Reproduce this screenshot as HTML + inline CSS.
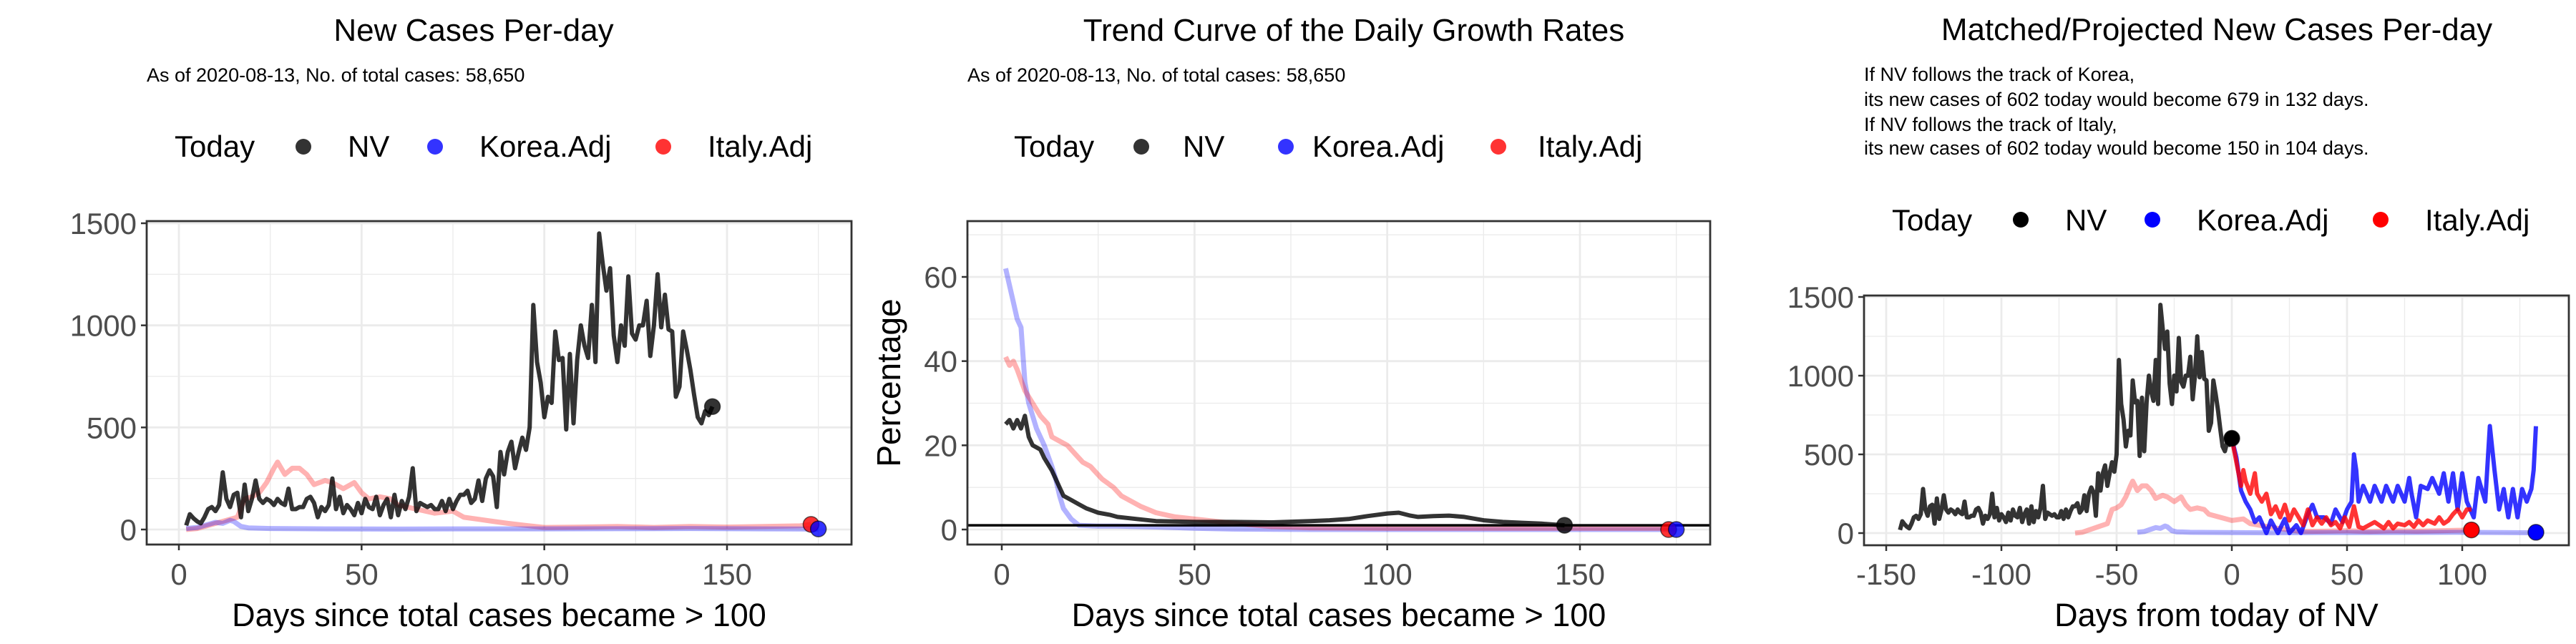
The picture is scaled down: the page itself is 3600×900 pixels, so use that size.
<!DOCTYPE html>
<html><head><meta charset="utf-8">
<style>
html,body{margin:0;padding:0;background:#fff;}
svg{display:block;font-family:"Liberation Sans",Arial,sans-serif;}
</style></head>
<body>
<svg id="chart" width="3600" height="900" viewBox="0 0 3600 900" xmlns="http://www.w3.org/2000/svg">
<rect width="3600" height="900" fill="#fff"/>
<text x="662" y="57" font-size="44" text-anchor="middle">New Cases Per-day</text>
<text x="205" y="114" font-size="27">As of 2020-08-13, No. of total cases: 58,650</text>
<g font-size="42">
<text x="244" y="219">Today</text>
<circle cx="424" cy="205" r="11" fill="#333"/><text x="486" y="219">NV</text>
<circle cx="608" cy="205" r="11" fill="#3333ff"/><text x="670" y="219">Korea.Adj</text>
<circle cx="927" cy="205" r="11" fill="#ff3333"/><text x="989" y="219">Italy.Adj</text>
</g>
<text x="1892" y="57" font-size="44" text-anchor="middle">Trend Curve of the Daily Growth Rates</text>
<text x="1352" y="114" font-size="27">As of 2020-08-13, No. of total cases: 58,650</text>
<g font-size="42">
<text x="1417" y="219">Today</text>
<circle cx="1595" cy="205" r="11" fill="#333"/><text x="1653" y="219">NV</text>
<circle cx="1797" cy="205" r="11" fill="#3333ff"/><text x="1834" y="219">Korea.Adj</text>
<circle cx="2094" cy="205" r="11" fill="#ff3333"/><text x="2149" y="219">Italy.Adj</text>
</g>
<text x="3098" y="56" font-size="44" text-anchor="middle">Matched/Projected New Cases Per-day</text>
<g font-size="27">
<text x="2605" y="113">If NV follows the track of Korea,</text>
<text x="2605" y="148">its new cases of 602 today would become 679 in 132 days.</text>
<text x="2605" y="183">If NV follows the track of Italy,</text>
<text x="2605" y="216">its new cases of 602 today would become 150 in 104 days.</text>
</g>
<g font-size="42">
<text x="2644" y="322">Today</text>
<circle cx="2824" cy="307" r="11" fill="#000"/><text x="2886" y="322">NV</text>
<circle cx="3008" cy="307" r="11" fill="#0000ff"/><text x="3070" y="322">Korea.Adj</text>
<circle cx="3327" cy="307" r="11" fill="#ff0000"/><text x="3389" y="322">Italy.Adj</text>
</g>
<g id="plots"></g>
</svg>
<script>
const nvStartDay = 2;
const nvCases = [20,75,55,40,30,60,100,110,90,120,280,150,110,170,180,60,220,90,150,240,
150,130,150,140,120,150,130,120,200,100,100,110,110,150,160,130,60,110,90,120,
250,100,160,80,120,100,70,130,80,150,110,100,160,70,120,150,60,170,70,140,
100,160,300,90,130,120,110,120,100,100,140,90,150,100,140,170,170,190,130,150,
240,140,250,290,260,110,380,270,380,430,300,380,450,390,500,1100,820,720,550,650,
620,970,830,840,490,860,520,830,1000,900,840,1100,820,1450,1300,1170,1280,950,820,1000,
900,1240,960,930,1000,1000,1120,850,1000,1250,990,1150,980,970,650,700,970,880,780,660,
550,520,580,560,602];
const koreaDays = [2,5,8,10,12,14,15,17,19,25,40,60,80,100,120,140,160,175];
const koreaCases = [5,10,25,35,30,45,40,15,8,5,3,2,3,3,4,5,3,2];
const italyDays = [2,5,8,12,16,18,20,22,24,26,27,29,31,33,35,37,40,42,45,48,50,52,55,58,60,65,70,75,78,82,86,90,95,100,110,120,130,140,150,160,170,173];
const italyCases = [0,5,20,40,60,150,160,180,230,300,330,270,300,300,270,220,240,230,200,230,180,150,160,150,120,100,80,90,60,50,40,30,20,10,12,15,10,15,12,15,18,25];
const nvRateDays = [1,2,3,4,5,6,7,8,10,11,13,14,15,16,18,20,22,25,28,30,35,40,50,60,70,80,85,90,95,100,103,106,108,112,116,120,125,130,135,140,146];
const nvRates = [25,26,24,26,24,27,22,20,19,17,14,12,10,8,7,6,5,4,3.5,3,2.5,2,1.8,1.8,1.7,2,2.2,2.5,3.2,3.8,4,3.3,3,3.2,3.3,3,2.2,1.8,1.6,1.4,1];
const koreaRateDays = [1,2,3,4,5,6,7,8,9,11,13,14,15,16,18,20,25,30,40,50,60,80,100,130,160,175];
const koreaRates = [62,58,54,50,48,35,30,27,24,20,15,12,8,5,2.5,1,0.8,0.8,0.6,0.3,0.1,0,0,0,0,0];
const italyRateDays = [1,2,3,4,6,8,10,12,13,15,17,19,21,23,26,29,31,33,36,40,45,50,55,60,70,80,100,130,160,173];
const italyRates = [41,39,40,38,33,30,27,25,22,21,20,18,16,15,12,10,8,7,5.5,4,3,2.5,2,1.5,0.7,0.4,0.3,0.3,0.3,0.3];
const rateRefLine = 1;
const nvShift = -146;
const italyShift = -70;
const koreaShift = -43;
const projKoreaX = [0,2,4,6,8,10,12,15,17,20,23,25,28,30,33,35,37,40,43,45,48,50,52,53,54,55,57,60,62,65,67,70,72,75,77,78,80,82,85,87,90,92,94,96,98,100,102,105,107,110,112,114,116,118,120,122,124,126,128,130,131,132];
const projKorea = [600,480,270,200,150,70,100,0,80,0,90,0,50,0,120,180,100,100,60,150,70,150,200,500,400,200,300,200,300,200,300,200,300,200,350,250,100,300,280,350,250,380,200,380,150,380,200,100,350,200,680,400,150,280,100,280,100,280,200,280,400,679];
const projItalyX = [0,2,4,5,6,8,10,11,13,15,17,19,21,23,25,27,29,31,33,35,37,39,41,43,45,47,49,51,53,55,57,62,64,66,68,70,72,75,77,79,81,83,85,88,90,92,94,96,98,100,102,104];
const projItaly = [602,450,300,400,330,250,380,250,200,250,120,170,100,180,80,150,100,50,150,50,100,60,100,50,70,30,100,40,170,40,30,70,50,30,70,30,60,50,70,40,80,50,80,60,100,60,80,120,150,100,150,150];
const todayNV = 602;
const endKorea = {x:175, y:3}, endItaly = {x:173, y:25};
const endKoreaRate = 0, endItalyRate = 0, todayNVRate = 1;
const endProjKorea = 5, endProjItaly = 20;

const NS = "http://www.w3.org/2000/svg";
const root = document.getElementById('plots');
function el(tag, attrs, parent){const e=document.createElementNS(NS,tag);for(const k in attrs)e.setAttribute(k,attrs[k]);(parent||root).appendChild(e);return e;}
function lin(d0,d1,r0,r1){return v=>r0+(v-d0)*(r1-r0)/(d1-d0);}

function panel(cfg){
  const g = el('g',{});
  
  
  const {L,R,T,B,sx,sy} = cfg;
  cfg.yMinor.forEach(v=>{const l=el('line',{x1:L,x2:R,y1:sy(v),y2:sy(v),stroke:'#ebebeb','stroke-width':1.3},g);
    
    });
  cfg.xMinor.forEach(v=>{const l=el('line',{y1:T,y2:B,x1:sx(v),x2:sx(v),stroke:'#ebebeb','stroke-width':1.3},g);
    
    });
  cfg.yTicks.forEach(v=>{const l=el('line',{x1:L,x2:R,y1:sy(v),y2:sy(v),stroke:'#ebebeb','stroke-width':2.8},g);
    
    
    const t=el('line',{x1:L-8,x2:L,y1:sy(v),y2:sy(v),stroke:'#333','stroke-width':2.5},g);
    
    
    const tx=el('text',{x:L-14,y:sy(v)+15,'font-size':42,'text-anchor':'end',fill:'#4d4d4d'},g);
    tx.textContent=v;
    
    });
  cfg.xTicks.forEach(v=>{const l=el('line',{y1:T,y2:B,x1:sx(v),x2:sx(v),stroke:'#ebebeb','stroke-width':2.8},g);
    
    
    const t=el('line',{y1:B,y2:B+8,x1:sx(v),x2:sx(v),stroke:'#333','stroke-width':2.5},g);
    
    
    const tx=el('text',{x:sx(v),y:817,'font-size':42,'text-anchor':'middle',fill:'#4d4d4d'},g);
    tx.textContent=v;
    
    });
  const clipId = cfg.name+'-clip';
  const cp = el('clipPath',{id:clipId},g); el('rect',{x:L,y:T,width:R-L,height:B-T},cp);
  const data = el('g',{'clip-path':'url(#'+clipId+')'},g);
  
  
  cfg.draw(data);
  const fr = el('rect',{x:L,y:T,width:R-L,height:B-T,fill:'none',stroke:'#333','stroke-width':2.8},g);
  
  
  const xt = el('text',{x:(L+R)/2,y:875,'font-size':45,'text-anchor':'middle',fill:'#000'},g);
  xt.textContent = cfg.xTitle;
  
  
  return g;
}
function line(parent, xs, ys, sx, sy, color, w, name){
  const d = xs.map((x,i)=>(i?'L':'M')+sx(x).toFixed(1)+','+sy(ys[i]).toFixed(1)).join('');
  const p = el('path',{d:d,fill:'none',stroke:color,'stroke-width':w,'stroke-linejoin':'round'},parent);
  
  
  return p;
}
function dot(parent,x,y,color,name){
  const c = el('circle',{cx:x,cy:y,r:11,fill:color,stroke:'rgba(0,0,0,0.6)','stroke-width':1.5},parent);
  
  
}
const nvDays = nvCases.map((v,i)=>nvStartDay+i);
const FK='rgba(0,0,255,0.3)', FI='rgba(255,0,0,0.3)', NVC='rgba(0,0,0,0.8)';

{
  const sx=lin(0,150,250,1016), sy=lin(0,1500,740,312);
  panel({name:'panel1-new-cases',L:205,R:1190,T:309,B:761,sx,sy,
    yTicks:[0,500,1000,1500],yMinor:[250,750,1250],xTicks:[0,50,100,150],xMinor:[25,75,125,175],
    xTitle:'Days since total cases became > 100',
    draw:g=>{
      line(g,italyDays,italyCases,sx,sy,FI,7,'italy-adj-line');
      line(g,koreaDays,koreaCases,sx,sy,FK,7,'korea-adj-line');
      line(g,nvDays,nvCases,sx,sy,NVC,6,'nv-line');
      dot(g,sx(nvDays[nvDays.length-1]),sy(todayNV),'rgba(0,0,0,0.8)','nv-today-point');
      dot(g,sx(endItaly.x),sy(endItaly.y),'rgba(255,0,0,0.8)','italy-end-point');
      dot(g,sx(endKorea.x),sy(endKorea.y),'rgba(0,0,255,0.8)','korea-end-point');
    }});
}
{
  const sx=lin(0,150,1400,2208), sy=lin(0,60,740,387);
  panel({name:'panel2-growth-rates',L:1352,R:2390,T:309,B:761,sx,sy,
    yTicks:[0,20,40,60],yMinor:[10,30,50,70],xTicks:[0,50,100,150],xMinor:[25,75,125,175],
    xTitle:'Days since total cases became > 100',
    draw:g=>{
      line(g,koreaRateDays,koreaRates,sx,sy,FK,7,'korea-rate-line');
      line(g,italyRateDays,italyRates,sx,sy,FI,7,'italy-rate-line');
      line(g,nvRateDays,nvRates,sx,sy,NVC,6,'nv-rate-line');
      const h=el('line',{x1:1352,x2:2390,y1:sy(rateRefLine),y2:sy(rateRefLine),stroke:'#000','stroke-width':3.5},g);
      
      
      dot(g,sx(146),sy(todayNVRate),'rgba(0,0,0,0.8)','nv-today-point');
      dot(g,sx(endItaly.x),sy(endItalyRate),'rgba(255,0,0,0.8)','italy-end-point');
      dot(g,sx(endKorea.x),sy(endKoreaRate),'rgba(0,0,255,0.8)','korea-end-point');
    }});
  const yt = el('text',{x:0,y:0,'font-size':46,'text-anchor':'middle',transform:'translate(1258,535) rotate(-90)'});
  yt.textContent='Percentage';
  
  
}
{
  const sx=lin(-150,100,2636,3441), sy=lin(0,1500,745,415);
  panel({name:'panel3-projected',L:2605,R:3590,T:413,B:762,sx,sy,
    yTicks:[0,500,1000,1500],yMinor:[250,750,1250],xTicks:[-150,-100,-50,0,50,100],xMinor:[-125,-75,-25,25,75,125],
    xTitle:'Days from today of NV',
    draw:g=>{
      line(g,italyDays.map(d=>d+italyShift),italyCases,sx,sy,FI,7,'italy-matched-line');
      line(g,koreaDays.map(d=>d+koreaShift),koreaCases,sx,sy,FK,7,'korea-matched-line');
      line(g,nvDays.map(d=>d+nvShift),nvCases,sx,sy,NVC,6,'nv-line');
      line(g,projKoreaX,projKorea,sx,sy,'rgba(0,0,255,0.8)',6,'korea-projection-line');
      line(g,projItalyX,projItaly,sx,sy,'rgba(255,0,0,0.8)',6,'italy-projection-line');
      dot(g,sx(0),sy(todayNV),'#000','nv-today-point');
      dot(g,sx(projItalyX[projItalyX.length-1]),sy(endProjItaly),'#ff0000','italy-projection-end');
      dot(g,sx(projKoreaX[projKoreaX.length-1]),sy(endProjKorea),'#0000ff','korea-projection-end');
    }});
}
</script>
</body></html>
